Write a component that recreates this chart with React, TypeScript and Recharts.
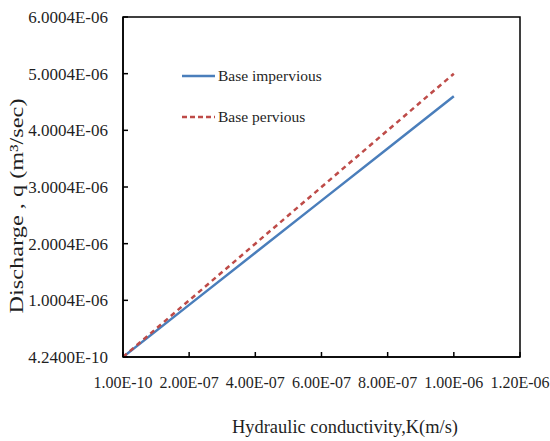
import React from "react";
import { LineChart, Line, XAxis, YAxis, ReferenceArea } from "recharts";

const conductivity = [1e-10, 2e-7, 4e-7, 6e-7, 8e-7, 1e-6];
const baseImpervious = [4.24e-10, 9.2e-7, 1.84e-6, 2.76e-6, 3.68e-6, 4.6e-6];
const basePervious = [4.6e-10, 1.0e-6, 2.0e-6, 3.0e-6, 4.0e-6, 5.0e-6];

const xTicks = [1e-10, 2e-7, 4e-7, 6e-7, 8e-7, 1e-6, 1.2e-6];
const xTickLabels = ["1.00E-10", "2.00E-07", "4.00E-07", "6.00E-07", "8.00E-07", "1.00E-06", "1.20E-06"];
const yTicks = [4.24e-10, 1.0004e-6, 2.0004e-6, 3.0004e-6, 4.0004e-6, 5.0004e-6, 6.0004e-6];
const yTickLabels = ["4.2400E-10", "1.0004E-06", "2.0004E-06", "3.0004E-06", "4.0004E-06", "5.0004E-06", "6.0004E-06"];

const seriesNames = ["Base impervious", "Base pervious"];
const xTitle = "Hydraulic  conductivity,K(m/s)";
const yTitle = "Discharge , q (m³/sec)";

const data = conductivity.map((k, i) => ({
  k,
  imp: baseImpervious[i],
  per: basePervious[i],
}));

const FONT = '"Liberation Serif", "Times New Roman", serif';
const TEXT = "#1f1f1f";
const BLUE = "#4a7ebb";
const RED = "#be4b48";

const labelFor = (ticks: number[], labels: string[], v: number) => {
  const i = ticks.findIndex((t) => Math.abs(t - v) < 1e-12);
  return i >= 0 ? labels[i] : String(v);
};

const XTick = (props: any) => {
  const { x, payload } = props;
  return (
    <text
      x={x}
      y={388}
      textAnchor="middle"
      fontSize={16}
      fontFamily={FONT}
      fill={TEXT}
    >
      {labelFor(xTicks, xTickLabels, payload.value)}
    </text>
  );
};

const YTick = (props: any) => {
  const { y, payload } = props;
  return (
    <text
      x={108}
      y={y + 6}
      textAnchor="end"
      fontSize={17}
      fontFamily={FONT}
      fill={TEXT}
    >
      {labelFor(yTicks, yTickLabels, payload.value)}
    </text>
  );
};

export default function App() {
  return (
    <div style={{ position: "relative", width: 550, height: 441, background: "#fff", fontFamily: FONT }}>
      <style>{"body{margin:0}"}</style>
      <LineChart
        width={550}
        height={441}
        data={data}
        margin={{ top: 17, right: 30, bottom: 0, left: 0 }}
      >
        <XAxis
          type="number"
          dataKey="k"
          domain={[1e-10, 1.2e-6]}
          ticks={xTicks}
          allowDataOverflow
          height={84}
          tickSize={-5}
          stroke="#000"
          strokeWidth={1.5}
          tick={<XTick />}
          interval={0}
        />
        <YAxis
          type="number"
          domain={[4.24e-10, 6.0004e-6]}
          ticks={yTicks}
          allowDataOverflow
          width={123}
          tickSize={-5}
          stroke="#000"
          strokeWidth={1.5}
          tick={<YTick />}
          interval={0}
        />
        <ReferenceArea
          x1={1e-10}
          x2={1.2e-6}
          y1={4.24e-10}
          y2={6.0004e-6}
          fill="none"
          stroke="#000"
          strokeWidth={1.5}
          ifOverflow="visible"
        />
        <Line
          type="linear"
          dataKey="imp"
          name={seriesNames[0]}
          stroke={BLUE}
          strokeWidth={2.5}
          dot={false}
          isAnimationActive={false}
        />
        <Line
          type="linear"
          dataKey="per"
          name={seriesNames[1]}
          stroke={RED}
          strokeWidth={2.5}
          strokeDasharray="5 4"
          dot={false}
          isAnimationActive={false}
        />
      </LineChart>

      {/* legend */}
      <svg
        width={170}
        height={70}
        style={{ position: "absolute", left: 175, top: 60 }}
      >
        <line x1={7} x2={40} y1={16} y2={16} stroke={BLUE} strokeWidth={2.5} />
        <text x={43} y={21} fontSize={15.5} fontFamily={FONT} fill={TEXT}>
          {seriesNames[0]}
        </text>
        <line x1={7} x2={40} y1={57} y2={57} stroke={RED} strokeWidth={2.5} strokeDasharray="5 3" />
        <text x={43} y={62} fontSize={15.5} fontFamily={FONT} fill={TEXT}>
          {seriesNames[1]}
        </text>
      </svg>

      {/* axis titles */}
      <svg width={550} height={441} style={{ position: "absolute", left: 0, top: 0, pointerEvents: "none" }}>
        <text
          x={345}
          y={433}
          textAnchor="middle"
          fontSize={18.5}
          fontFamily={FONT}
          fill={TEXT}
          textLength={226}
          lengthAdjust="spacingAndGlyphs"
        >
          {xTitle}
        </text>
        <text
          transform="translate(23,206) rotate(-90)"
          textAnchor="middle"
          fontSize={19}
          fontFamily={FONT}
          fill={TEXT}
          textLength={215}
          lengthAdjust="spacingAndGlyphs"
        >
          {yTitle}
        </text>
      </svg>
    </div>
  );
}
